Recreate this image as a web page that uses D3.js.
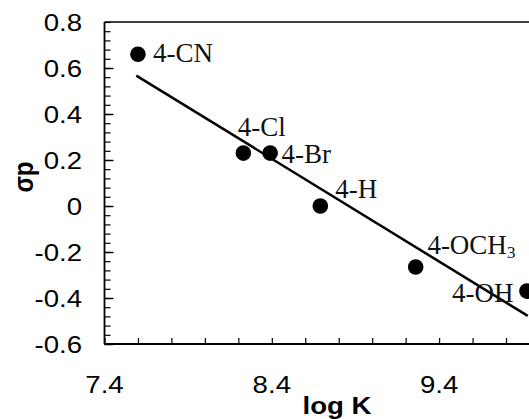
<!DOCTYPE html>
<html><head><meta charset="utf-8">
<script src="https://cdn.jsdelivr.net/npm/d3@7"></script>
<style>body{margin:0;background:#fff}svg{display:block}</style>
</head><body>
<script>
// ---- data ----
const substituents = ["4-CN","4-Cl","4-Br","4-H","4-OCH3","4-OH"];
const logK   = [7.60, 8.23, 8.39, 8.69, 9.26, 9.925];
const sigmaP = [0.66, 0.23, 0.23, 0.00, -0.265, -0.37];
const trendX = [7.59, 9.93];
const trendY = [0.567, -0.478];
const xTickLabels = [7.4, 8.4, 9.4];
const yTickLabels = [0.8, 0.6, 0.4, 0.2, 0, -0.2, -0.4, -0.6];
// label offsets from dot (px), anchor
const labelDx = [15, -5.6, 11.4, 15, 11.7, -13.4];
const labelDy = [7.4, -17.3, 10, -7.7, -12.7, 11];
const labelAnchor = ["start","start","start","start","start","end"];

const W = 529, H = 419;
const svg = d3.select("body").append("svg").attr("width", W).attr("height", H);

const x = d3.scaleLinear().domain([7.4, 10.4]).range([104.5, 104.5 + 3 * 167.3]);
const y = d3.scaleLinear().domain([-0.6, 0.8]).range([344, 22]);

const sans = "'Liberation Sans', Arial, sans-serif";
const serif = "'Liberation Serif', 'Times New Roman', serif";
const SX = 1.15;

// frame top line
svg.append("line").attr("x1", x(7.4)).attr("x2", W + 10).attr("y1", y(0.8)).attr("y2", y(0.8))
  .attr("stroke", "#000").attr("stroke-width", 1.5);

// y axis with minor ticks (inside)
const yMinor = d3.range(-0.6, 0.8001, 0.04).map(v => +v.toFixed(2));
const yAxisG = svg.append("g").attr("transform", `translate(${x(7.4)},0)`);
yAxisG.call(d3.axisRight(y).tickValues(yMinor).tickSize(6).tickFormat(""))
  .call(g => g.selectAll(".tick line").attr("stroke-width", 1.2))
  .call(g => g.select(".domain").attr("stroke-width", 1.8).attr("d", `M0,${y(0.8)}V${y(-0.6)}`));
yAxisG.append("g").call(d3.axisRight(y).tickValues(yTickLabels.filter(v => v < 0.8)).tickSize(9).tickFormat(""))
  .call(g => g.select(".domain").remove())
  .call(g => g.selectAll(".tick line").attr("stroke-width", 1.4));

// y tick labels (hyphen-minus as in the original)
svg.append("g").selectAll("text").data(yTickLabels).join("text")
  .attr("transform", d => `translate(${82},${y(d) + 8.5}) scale(${SX},1)`)
  .attr("text-anchor", "end").attr("font-family", sans).attr("font-size", 24)
  .text(d => String(d));

// x axis with minor ticks (inside)
const xMinor = d3.range(7.4, 10.4001, 0.2).map(v => +v.toFixed(1));
svg.append("g").attr("transform", `translate(0,${y(-0.6)})`)
  .call(d3.axisTop(x).tickValues(xMinor).tickSize(6).tickFormat(""))
  .call(g => g.selectAll(".tick line").attr("stroke-width", 1.2))
  .call(g => g.select(".domain").attr("stroke-width", 1.8).attr("d", `M${x(7.4)},0H${W + 10}`));

svg.append("g").selectAll("text").data(xTickLabels).join("text")
  .attr("transform", d => `translate(${x(d)},${393}) scale(${SX},1)`)
  .attr("text-anchor", "middle").attr("font-family", sans).attr("font-size", 24)
  .text(d => d.toFixed(1));

// axis titles
svg.append("text").attr("transform", `translate(337,414) scale(${SX},1)`)
  .attr("text-anchor", "middle").attr("font-family", sans).attr("font-weight", "bold").attr("font-size", 24)
  .text("log K");
svg.append("text").attr("transform", `translate(33,177) rotate(-90) scale(1,${SX})`)
  .attr("text-anchor", "middle").attr("font-family", sans).attr("font-weight", "bold").attr("font-size", 24)
  .text("σp");

// trend line
const line = d3.line().x(d => x(d[0])).y(d => y(d[1]));
svg.append("path").datum(trendX.map((v, i) => [v, trendY[i]]))
  .attr("d", line).attr("stroke", "#000").attr("stroke-width", 2.5).attr("fill", "none");

// points
const pts = substituents.map((s, i) => ({ s, x: logK[i], y: sigmaP[i], i }));
svg.append("g").selectAll("circle").data(pts).join("circle")
  .attr("cx", d => x(d.x)).attr("cy", d => y(d.y)).attr("r", 7.8).attr("fill", "#000");

// labels
const lab = svg.append("g").selectAll("text").data(pts).join("text")
  .attr("x", d => x(d.x) + labelDx[d.i]).attr("y", d => y(d.y) + labelDy[d.i])
  .attr("text-anchor", d => labelAnchor[d.i])
  .attr("font-family", serif).attr("font-size", 27).attr("fill", "#111");
lab.each(function(d) {
  const t = d3.select(this);
  if (d.s === "4-OCH3") {
    t.append("tspan").text("4-OCH");
    t.append("tspan").attr("font-size", 17).attr("dy", 4).text("3");
  } else {
    t.text(d.s);
  }
});
</script>
</body></html>
